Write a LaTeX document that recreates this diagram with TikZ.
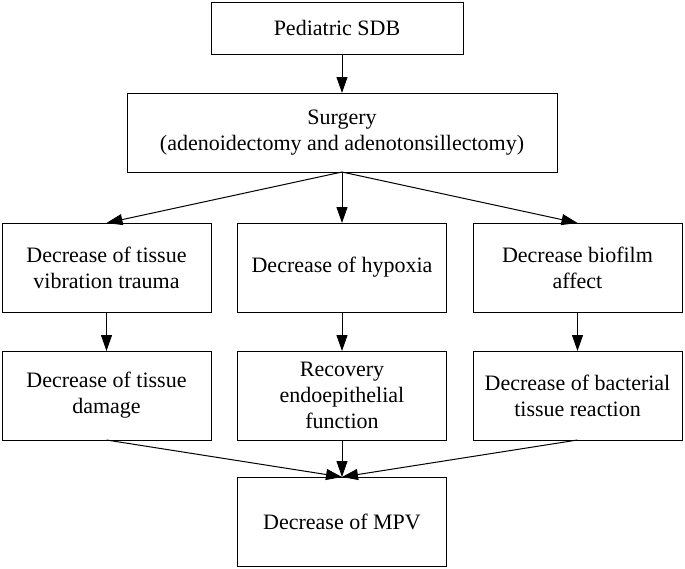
\documentclass[tikz,border=0pt]{standalone}
\usepackage{fontspec}
\setmainfont{Liberation Serif}
\usepackage{tikz}
\usetikzlibrary{arrows.meta, positioning}

\begin{document}
\begin{tikzpicture}[node distance=39pt and 26.5pt,
    block/.style={rectangle, draw, line width=1pt, inner sep=0pt, outer sep=0pt, align=center,
        minimum width=209pt, minimum height=89pt, font=\fontsize{22}{26}\selectfont},
    arr/.style={-{Triangle[length=16pt,width=11pt]}, line width=1pt}]

    \useasboundingbox (0,0) rectangle (685pt,-568pt);

    % Nodes
    \node (surg) at (342pt,-132.5pt) [block, minimum width=430pt, minimum height=79pt] {Surgery\\(adenoidectomy and adenotonsillectomy)};
    \node (ped) [above=of surg, xshift=-5pt, block, minimum width=252pt, minimum height=52pt] {Pediatric SDB};
    \node (hypoxia) [below=51pt of surg, block] {Decrease of hypoxia};
    \node (vibration) [left=of hypoxia, block] {Decrease of tissue\\vibration trauma};
    \node (biofilm) [right=of hypoxia, block] {Decrease biofilm\\affect};
    \node (damage) [below=of vibration, block] {Decrease of tissue\\damage};
    \node (recovery) [below=of hypoxia, block] {Recovery\\endoepithelial\\function};
    \node (bacterial) [below=of biofilm, block] {Decrease of bacterial\\tissue reaction};
    \node (mpv) [below=37pt of recovery, block] {Decrease of MPV};

    % Edges
    \draw[arr] (ped.south -| surg.north) -- (surg.north);
    \draw[arr] (surg.south) -- (vibration.north);
    \draw[arr] (surg.south) -- (hypoxia.north);
    \draw[arr] (surg.south) -- (biofilm.north);
    \draw[arr] (vibration) -- (damage);
    \draw[arr] (hypoxia) -- (recovery);
    \draw[arr] (biofilm) -- (bacterial);
    \draw[arr] (damage.south) -- (mpv.north);
    \draw[arr] (recovery) -- (mpv);
    \draw[arr] (bacterial.south) -- (mpv.north);
\end{tikzpicture}
\end{document}
